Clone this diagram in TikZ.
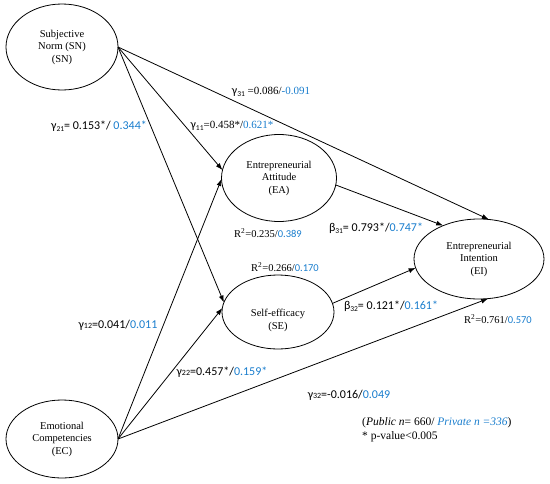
\documentclass[tikz,border=0pt]{standalone}
\usepackage{fontspec}
\setmainfont{Liberation Serif}
\newfontfamily\coeffont{Carlito}
\usepackage{xcolor}
\usepackage{tikz}
\usetikzlibrary{arrows.meta, shapes.geometric}
\definecolor{privblue}{RGB}{25,125,205}
\newcommand{\gsub}[1]{\raisebox{-0.4ex}{\fontsize{7.5}{7.5}\selectfont #1}}
\newcommand{\gsm}[1]{{\fontsize{8}{8}\selectfont #1}}
\newcommand{\pv}[1]{\textcolor{privblue}{#1}}
\tikzset{
  latent/.style={
    ellipse, draw=black, line width=0.8pt,
    align=center, font=\fontsize{10.5}{12.5}\selectfont,
    inner sep=1pt, outer sep=0pt,
  },
  rel/.style={draw=black, line width=0.8pt},
  coef/.style={font=\coeffont\fontsize{12}{14}\selectfont, inner sep=0pt},
  coefS/.style={font=\fontsize{11}{13}\selectfont, inner sep=0pt},
  rsq/.style={font=\fontsize{10.5}{12.5}\selectfont, inner sep=0pt},
  note/.style={font=\fontsize{11.5}{13}\selectfont, inner sep=0pt, anchor=west},
}

\begin{document}
\begin{tikzpicture}[x=1pt, y=-1pt, >={Latex[length=7pt,width=5pt]}]
\useasboundingbox (0,0) rectangle (550,483);

\node[latent, minimum width=112pt, minimum height=86pt] (sn) at (62,47) {Subjective\\Norm (SN)\\(SN)};
\node[latent, minimum width=115pt, minimum height=87pt] (ea) at (279,178) {Entrepreneurial\\Attitude\\(EA)};
\node[latent, minimum width=112pt, minimum height=74pt] (se) at (278,312)
  {\raisebox{-11pt}[0pt][0pt]{\begin{tabular}{@{}c@{}}Self-efficacy\\(SE)\end{tabular}}};
\node[latent, minimum width=130pt, minimum height=80pt] (ei) at (479,259) {Entrepreneurial\\Intention\\(EI)};
\node[latent, minimum width=112pt, minimum height=78pt] (ec) at (62,439) {Emotional\\Competencies\\(EC)};

\draw[rel, ->] (sn.east) -- (ea.172);
\draw[rel, ->] (sn.east) -- (se.170);
\draw[rel, ->] (sn.east) -- (ei.76);
\draw[rel, ->] (ec.east) -- (ea.181);
\draw[rel, ->] (ec.east) -- (se.176);
\draw[rel, ->] (ec.east) -- (ei.-77);
\draw[rel, ->] (ea.-7) -- (ei.137);
\draw[rel, ->] (se.9) -- (ei.188);

\node[coefS] (g31) at (271,92) {{\coeffont\fontsize{12}{14}\selectfont γ\gsub{31}} =0.086/\pv{-0.091}};
\node[coef] (g21) at (99,126) {γ\gsub{21}= 0.153*/ \pv{0.344*}};
\node[coefS] (g11) at (232,126) {{\coeffont\fontsize{12}{14}\selectfont γ\gsub{11}}=0.458*/\pv{0.621*}};
\node[rsq] (r2ea) at (268,233) {R\textsuperscript{2}=0.235/\pv{\coeffont 0.389}};
\node[coef] (b31) at (376,228) {β\gsub{31}= 0.793*/\pv{0.747*}};
\node[rsq] (r2se) at (285,267) {R\textsuperscript{2}=0.266/\pv{\coeffont 0.170}};
\node[coef] (b32) at (391,306) {β\gsub{32}= 0.121*/\pv{0.161*}};
\node[rsq] (r2ei) at (498,319) {R\textsuperscript{2}=0.761/\pv{\coeffont 0.570}};
\node[coef] (g12) at (118,325) {γ\gsm{12}=0.041/\pv{0.011}};
\node[coef] (g22) at (222,372) {γ\gsm{22}=0.457*/\pv{0.159*}};
\node[coef] (g32) at (349,395) {γ\gsm{32}=-0.016/\pv{0.049}};
\node[note] (sample) at (362,423) {(\textit{Public n}= 660/ \pv{\textit{Private n =336}})};
\node[note] (pnote) at (362,437) {* p-value<0.005};

\end{tikzpicture}
\end{document}
